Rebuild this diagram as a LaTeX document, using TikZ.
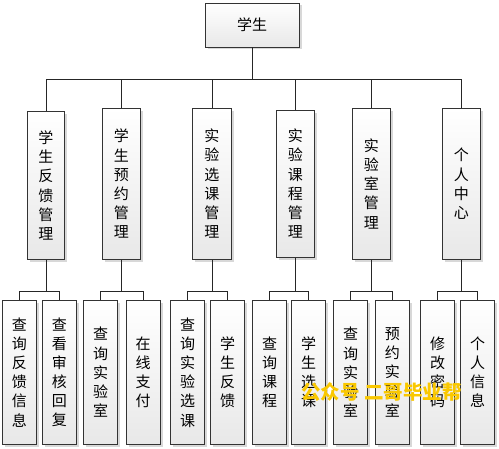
\documentclass[tikz,border=0pt]{standalone}
\usepackage{fontspec}
\setmainfont{Noto Sans CJK SC}
\usetikzlibrary{shadows}
\definecolor{wmyellow}{RGB}{250,200,0}
\tikzset{
  box/.style={draw=black!80, line width=0.6pt, top color=white, bottom color=black!9,
    drop shadow={shadow xshift=2.5pt, shadow yshift=-2.5pt, fill=black!30, opacity=0.5},
    align=center, inner sep=0pt, font=\fontsize{15}{19.2}\selectfont},
  mid/.style={box, minimum width=38pt, minimum height=151pt},
  leaf/.style={box, minimum width=34pt, minimum height=144pt},
  link/.style={draw=black!85, line width=0.6pt},
}
\begin{document}
\begin{tikzpicture}[x=1pt,y=-1pt]
\useasboundingbox (0,0) rectangle (499,449);
\node[box, minimum width=94pt, minimum height=44pt] (xs) at (252,25) {学生};
\node[mid, minimum width=37pt, minimum height=148pt] (fkgl) at (45.8,185.5) {学\\生\\反\\馈\\管\\理};
\node[mid] (yygl) at (121.3,183.8) {学\\生\\预\\约\\管\\理};
\node[mid, minimum width=39pt] (xkgl) at (211.8,183.8) {实\\验\\选\\课\\管\\理};
\node[mid, minimum height=147pt] (kcgl) at (295.3,183.8) {实\\验\\课\\程\\管\\理};
\node[mid] (sysgl) at (371.3,183.8) {实\\验\\室\\管\\理};
\node[mid] (grzx) at (461.3,183.8) {个\\人\\中\\心};
\node[leaf] (cxfk) at (19.5,372.3) {查\\询\\反\\馈\\信\\息};
\node[leaf] (ckhf) at (59.5,372.3) {查\\看\\审\\核\\回\\复};
\node[leaf] (cxsys) at (100.5,372.3) {查\\询\\实\\验\\室};
\node[leaf] (zxzf) at (143,372.3) {在\\线\\支\\付};
\node[leaf] (cxxk) at (187.5,372.3) {查\\询\\实\\验\\选\\课};
\node[leaf] (xsfk) at (227.5,372.3) {学\\生\\反\\馈};
\node[leaf] (cxkc) at (269.5,372.3) {查\\询\\课\\程};
\node[leaf] (xsxk) at (308.5,372.3) {学\\生\\选\\课};
\node[leaf] (cxsy) at (350.5,372.3) {查\\询\\实\\验\\室};
\node[leaf] (yysy) at (392.3,372.3) {预\\约\\实\\验\\室};
\node[leaf] (xgmm) at (437.5,372.3) {修\\改\\密\\码};
\node[leaf] (grxx) at (477.5,372.3) {个\\人\\信\\息};
\foreach \m in {fkgl,yygl,xkgl,kcgl,sysgl,grzx}
  \draw[link] (xs.south) -- (xs.south |- 0,79) -| (\m.north);
\foreach \p/\a/\b in {fkgl/cxfk/ckhf, yygl/cxsys/zxzf, xkgl/cxxk/xsfk,
    kcgl/cxkc/xsxk, sysgl/cxsy/yysy, grzx/xgmm/grxx} {
  \draw[link] (\p.south) -- (\p.south |- 0,291) -| (\a.north);
  \draw[link] (\p.south |- 0,291) -| (\b.north);
}
\node[text=wmyellow, font=\bfseries\fontsize{19.5}{19.5}\selectfont] (wm) at (381.5,392) {公众号 二哥毕业帮};
\end{tikzpicture}
\end{document}
